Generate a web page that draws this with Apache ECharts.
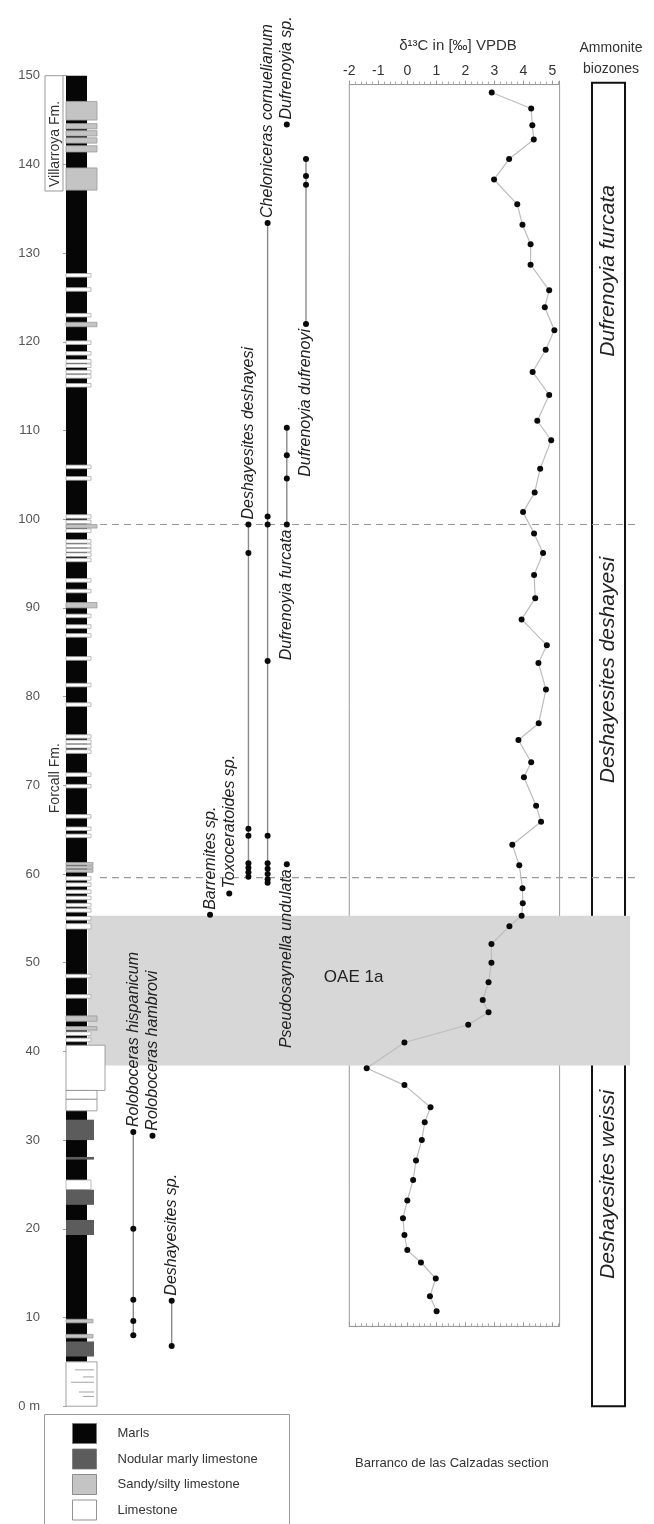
<!DOCTYPE html>
<html><head><meta charset="utf-8">
<script src="https://cdn.jsdelivr.net/npm/echarts@6/dist/echarts.min.js"></script>
<style>html,body{margin:0;padding:0;background:#fff}#c{width:654px;height:1524px}</style>
</head><body><div id="c"></div>
<script>
// ---------------- DATA ----------------
const depthTicks = [0,10,20,30,40,50,60,70,80,90,100,110,120,130,140,150];
const d13cDepth = [148.1,146.3,144.4,142.8,140.6,138.3,135.5,133.2,131.0,128.7,125.8,123.9,121.3,119.1,116.6,114.0,111.1,108.9,105.7,103.0,100.8,98.4,96.2,93.7,91.1,88.7,85.8,83.8,80.8,77.0,75.1,72.6,70.9,67.7,65.9,63.3,61.0,58.4,56.7,55.3,54.1,52.1,50.0,47.8,45.8,44.4,43.0,41.0,38.1,36.2,33.7,32.0,30.0,27.7,25.5,23.2,21.2,19.3,17.6,16.2,14.4,12.4,10.7];
const d13cValue = [2.91,4.27,4.31,4.36,3.51,2.99,3.79,3.97,4.25,4.25,4.89,4.74,5.07,4.77,4.32,4.89,4.48,4.96,4.58,4.39,3.99,4.37,4.68,4.37,4.41,3.94,4.81,4.52,4.78,4.53,3.83,4.27,4.02,4.44,4.61,3.62,3.86,3.97,3.98,3.94,3.52,2.90,2.9,2.8,2.6,2.8,2.1,-0.1,-1.4,-0.1,0.8,0.6,0.5,0.3,0.2,0.0,-0.15,-0.1,0.0,0.47,0.98,0.78,1.01];

const taxa = ['Roloboceras hispanicum','Roloboceras hambrovi','Deshayesites sp.','Barremites sp.','Toxoceratoides sp.','Deshayesites deshayesi','Cheloniceras cornuelianum','Pseudosaynella undulata','Dufrenoyia furcata','Dufrenoyia dufrenoyi','Dufrenoyia sp.'];
const taxonColumn = [0,1,2,4,5,6,7,8,8,9,8];
const taxonOccurrences = [
  [30.9,20.0,12.0,9.6,8.0],
  [30.5],
  [11.9,6.8],
  [55.4],
  [57.8],
  [99.4,96.2,65.1,64.3,61.2,60.7,60.2,59.7],
  [133.4,100.3,99.4,84.0,64.3,61.2,60.6,60.0,59.4,59.0],
  [61.1],
  [110.3,107.2,104.6,99.4],
  [140.6,138.7,137.7,122.0],
  [144.5]
];
const taxonLabelSide = ['above','above','above','above','above','above','above','below','below','below','above'];

const lithoNames = ['Marls','Nodular marly limestone','Sandy/silty limestone','Limestone'];
const bedBase = [5.0,145.0,144.0,143.2,142.4,141.4,137.1,127.3,125.7,122.8,121.7,119.7,118.5,117.6,117.1,116.4,115.9,114.9,105.7,104.4,100.1,99.5,99.0,98.5,97.3,96.8,96.3,95.8,95.2,92.9,91.7,90.0,88.9,87.7,86.7,84.1,81.1,78.9,75.3,74.7,74.2,73.6,71.0,69.7,66.3,64.9,64.1,61.0,60.6,60.2,59.3,58.6,57.8,57.1,56.3,55.7,54.8,53.8,48.3,46.0,43.4,42.4,41.8,41.1,35.6,34.6,33.3,30.0,27.8,24.4,22.7,19.3,9.4,7.7,5.6,0];
const bedTop  = [150,147.1,144.6,143.8,143.0,142.1,139.6,127.7,126.1,123.2,122.2,120.1,118.9,118.0,117.5,116.8,116.3,115.3,106.1,104.8,100.5,99.9,99.4,98.9,97.7,97.2,96.7,96.2,95.6,93.3,92.1,90.6,89.3,88.1,87.1,84.5,81.5,79.3,75.7,75.1,74.6,74.0,71.4,70.1,66.7,65.3,64.5,61.3,60.9,60.5,59.7,59.0,58.2,57.5,56.7,56.1,55.2,54.4,48.7,46.4,44.0,42.8,42.2,41.5,40.7,35.6,34.6,32.3,28.1,25.5,24.4,21.0,9.8,8.1,7.3,5.0];
const bedType = ['M','S','S','S','S','S','S','l','l','l','S','l','l','l','l','l','l','l','l','l','l','l','S','l','l','l','l','l','l','l','l','S','l','l','l','l','l','l','l','l','l','l','l','l','l','l','l','s','s','s','l','l','l','l','l','l','l','l','l','l','S','S','l','l','W','L','L','N','N','l','N','N','s','s','N','L'];
// laminations inside the basal limestone (depth, start offset in column units)
const laminaDepth = [4.1,3.3,2.7,1.6,1.1];
const laminaStart = [9,17,5,13,17];

const formationNames = ['Villarroya Fm.','Forcall Fm.'];
const formationBase = [137.0, 0];
const formationTop = [150, 137.0];
const formationLabelDepth = [142.3, 70.8];
const formationBoxed = [1, 0];

const oaeBase = 38.4, oaeTop = 55.3, oaeLabel = 'OAE 1a', oaeLabelDepth = 48.4;
const zoneBoundaries = [99.4, 59.6];
const zoneNames = ['Dufrenoyia furcata','Deshayesites deshayesi','Deshayesites weissi'];
const zoneLabelDepth = [128.0, 83.0, 25.0];
const d13cTicks = [-2,-1,0,1,2,3,4,5];

// ---------------- LAYOUT ----------------
const FONT = '"Liberation Sans", Arial, sans-serif';
const PPM = 8.87, Y150 = 75.7;
const vTop = mx => Y150 + (150 - mx) * PPM;
const vH = (mn, mx) => (mx - mn) * PPM;
function g(left, width, mn, mx, extra) {
  return Object.assign({left: left, width: width, top: vTop(mx), height: vH(mn, mx), containLabel: false}, extra || {});
}
const lithoStyle = {
  M: {fill: '#060606', w: 21, stroke: null},
  N: {fill: '#5c5c5c', w: 28, stroke: null},
  S: {fill: '#c4c4c4', w: 31, stroke: '#9a9a9a'},
  s: {fill: '#c4c4c4', w: 27, stroke: '#9a9a9a'},
  L: {fill: '#ffffff', w: 31, stroke: '#8a8a8a'},
  l: {fill: '#ffffff', w: 25, stroke: '#aaaaaa'},
  W: {fill: '#ffffff', w: 39, stroke: '#8a8a8a'}
};
const legendFill = ['#060606', '#5c5c5c', '#c4c4c4', '#ffffff'];

const chart = echarts.init(document.getElementById('c'), null, {renderer: 'canvas'});

const hiddenX = (gi, mn, mx) => ({gridIndex: gi, type: 'value', min: mn, max: mx, show: false});
const hiddenY = (gi, mn, mx) => ({gridIndex: gi, type: 'value', min: mn, max: mx, show: false});

const series = [];
// OAE band (grid 2)
series.push({
  type: 'custom', xAxisIndex: 2, yAxisIndex: 2, z: 0, silent: true,
  data: [[oaeBase, oaeTop, oaeLabelDepth]],
  renderItem: function (p, api) {
    const a = api.coord([0, api.value(1)]), b = api.coord([1, api.value(0)]);
    const t = api.coord([0.49, api.value(2)]);
    return {type: 'group', children: [
      {type: 'rect', shape: {x: a[0], y: a[1], width: b[0] - a[0], height: b[1] - a[1]}, style: {fill: '#d7d7d7'}},
      {type: 'text', x: t[0], y: t[1], style: {text: oaeLabel, font: '17px ' + FONT, fill: '#222', textAlign: 'center', textVerticalAlign: 'middle'}}
    ]};
  }
});
// zone boundaries dashed (grid 3)
series.push({
  type: 'custom', xAxisIndex: 3, yAxisIndex: 3, z: 1, silent: true,
  data: zoneBoundaries.map(d => [d]),
  renderItem: function (p, api) {
    const a = api.coord([0, api.value(0)]), b = api.coord([1, api.value(0)]);
    return {type: 'line', shape: {x1: a[0], y1: a[1], x2: b[0], y2: b[1]}, style: {stroke: '#9a9a9a', lineWidth: 1.2, lineDash: [7, 5]}};
  }
});
// lithology (grid 0)
series.push({
  type: 'custom', xAxisIndex: 0, yAxisIndex: 0, z: 3, silent: true,
  data: bedBase.map((b, i) => [b, bedTop[i], i]),
  renderItem: function (p, api) {
    const i = api.value(2);
    const st = lithoStyle[bedType[i]];
    const a = api.coord([0, api.value(1)]), b = api.coord([st.w, api.value(0)]);
    return {type: 'rect', shape: {x: a[0], y: a[1], width: b[0] - a[0], height: Math.max(1, b[1] - a[1])},
      style: {fill: st.fill, stroke: st.stroke, lineWidth: st.stroke ? 0.8 : 0}};
  }
});
// laminations
series.push({
  type: 'custom', xAxisIndex: 0, yAxisIndex: 0, z: 4, silent: true,
  data: laminaDepth.map((d, i) => [laminaStart[i], d]),
  renderItem: function (p, api) {
    const a = api.coord([api.value(0), api.value(1)]), b = api.coord([28, api.value(1)]);
    return {type: 'line', shape: {x1: a[0], y1: a[1], x2: b[0], y2: b[1]}, style: {stroke: '#999', lineWidth: 0.9}};
  }
});
// formations (grid 1)
series.push({
  type: 'custom', xAxisIndex: 1, yAxisIndex: 1, z: 3, silent: true,
  data: formationNames.map((n, i) => [formationBase[i], formationTop[i], formationLabelDepth[i], formationBoxed[i], i]),
  renderItem: function (p, api) {
    const i = api.value(4);
    const ch = [];
    if (api.value(3)) {
      const a = api.coord([0, api.value(1)]), b = api.coord([1, api.value(0)]);
      ch.push({type: 'rect', shape: {x: a[0], y: a[1], width: b[0] - a[0], height: b[1] - a[1]}, style: {fill: 'none', stroke: '#999', lineWidth: 1}});
    }
    const t = api.coord([0.55, api.value(2)]);
    ch.push({type: 'text', x: t[0], y: t[1], rotation: Math.PI / 2,
      style: {text: formationNames[i], font: '14px ' + FONT, fill: '#333', textAlign: 'center', textVerticalAlign: 'middle'}});
    return {type: 'group', children: ch};
  }
});
// ammonite ranges (grid 4)
taxa.forEach((name, i) => {
  const occ = taxonOccurrences[i].slice().sort((a, b) => b - a);
  series.push({
    type: 'line', name: name, xAxisIndex: 4, yAxisIndex: 4, z: 4,
    data: occ.map(d => [taxonColumn[i], d]),
    symbol: 'circle', symbolSize: 6, showSymbol: true,
    itemStyle: {color: '#0a0a0a'},
    lineStyle: {color: '#8a8a8a', width: 1.4},
    silent: true
  });
});
// ammonite labels
series.push({
  type: 'custom', xAxisIndex: 4, yAxisIndex: 4, z: 5, silent: true,
  data: taxa.map((n, i) => {
    const occ = taxonOccurrences[i];
    const d = taxonLabelSide[i] === 'above' ? Math.max.apply(null, occ) : Math.min.apply(null, occ);
    return [taxonColumn[i], d, i];
  }),
  renderItem: function (p, api) {
    const i = api.value(2);
    const c = api.coord([api.value(0), api.value(1)]);
    const above = taxonLabelSide[i] === 'above';
    return {type: 'text', x: c[0], y: above ? c[1] - 5 : c[1] + 5, rotation: Math.PI / 2,
      style: {text: taxa[i], font: 'italic 16px ' + FONT, fill: '#222', textAlign: above ? 'left' : 'right', textVerticalAlign: 'middle'}};
  }
});
// d13C curve (grid 5)
series.push({
  type: 'line', xAxisIndex: 5, yAxisIndex: 5, z: 6,
  data: d13cDepth.map((d, i) => [d13cValue[i], d]),
  symbol: 'circle', symbolSize: 6, showSymbol: true,
  itemStyle: {color: '#0a0a0a'},
  lineStyle: {color: '#bdbdbd', width: 1.2},
  silent: true
});
// biozone labels (grid 7)
series.push({
  type: 'custom', xAxisIndex: 7, yAxisIndex: 7, z: 6, silent: true,
  data: zoneNames.map((n, i) => [zoneLabelDepth[i], i]),
  renderItem: function (p, api) {
    const c = api.coord([0.5, api.value(0)]);
    return {type: 'text', x: c[0], y: c[1], rotation: Math.PI / 2,
      style: {text: zoneNames[api.value(1)], font: 'italic 21px ' + FONT, fill: '#222', textAlign: 'center', textVerticalAlign: 'middle'}};
  }
});

const option = {
  animation: false,
  backgroundColor: '#ffffff',
  textStyle: {fontFamily: FONT},
  grid: [
    g(66, 40, 0, 150),            // 0 lithology
    g(45, 18, 0, 150),            // 1 formations
    g(88, 542, 0, 150),           // 2 OAE band
    g(100, 535, 0, 150),          // 3 zone boundaries
    g(133.3, 172.7, 0, 150),      // 4 ammonites
    g(349.3, 210.3, 9, 149, {show: true, borderColor: '#9a9a9a', borderWidth: 1, backgroundColor: 'transparent'}), // 5 d13C
    g(349.3, 210.3, 9, 149),      // 6 d13C bottom axis holder
    g(592, 33, 0, 149.2, {show: true, borderColor: '#111', borderWidth: 2, backgroundColor: 'transparent'}) // 7 biozones
  ],
  xAxis: [
    hiddenX(0, 0, 40), hiddenX(1, 0, 1), hiddenX(2, 0, 1), hiddenX(3, 0, 1), hiddenX(4, 0, 9),
    {gridIndex: 5, type: 'value', position: 'top', min: -2, max: 5.25, interval: 1,
      axisLine: {show: true, lineStyle: {color: '#9a9a9a'}},
      axisTick: {show: true, inside: false, length: 4, lineStyle: {color: '#9a9a9a'}},
      minorTick: {show: true, splitNumber: 5, length: 3, lineStyle: {color: '#aaa'}},
      splitLine: {show: false},
      axisLabel: {show: true, showMaxLabel: false, margin: 6, fontSize: 14, color: '#333', fontFamily: FONT,
        formatter: v => d13cTicks.indexOf(v) >= 0 ? String(v) : ''}},
    {gridIndex: 6, type: 'value', position: 'bottom', min: -2, max: 5.25, interval: 1,
      axisLine: {show: true, lineStyle: {color: '#9a9a9a'}},
      axisTick: {show: true, inside: true, length: 4, lineStyle: {color: '#9a9a9a'}},
      minorTick: {show: true, splitNumber: 5, length: 3, lineStyle: {color: '#aaa'}},
      splitLine: {show: false}, axisLabel: {show: false}},
    hiddenX(7, 0, 1)
  ],
  yAxis: [
    {gridIndex: 0, type: 'value', min: 0, max: 150, interval: 10, position: 'left', offset: 21,
      axisLine: {show: true, lineStyle: {color: '#a0a0a0', width: 1}},
      axisTick: {show: true, length: 3, lineStyle: {color: '#a0a0a0'}},
      splitLine: {show: false},
      axisLabel: {show: true, margin: 5, fontSize: 13, color: '#555', fontFamily: FONT,
        formatter: v => depthTicks.indexOf(v) >= 0 ? (v === 0 ? '0 m' : String(v)) : ''}},
    hiddenY(1, 0, 150), hiddenY(2, 0, 150), hiddenY(3, 0, 150), hiddenY(4, 0, 150),
    hiddenY(5, 9, 149), hiddenY(6, 9, 149), hiddenY(7, 0, 149.2)
  ],
  title: [
    {text: 'δ¹³C in [‰] VPDB', left: 453, top: 33, textAlign: 'center',
      textStyle: {fontSize: 15, fontWeight: 'normal', color: '#333', fontFamily: FONT}},
    {text: 'Ammonite\nbiozones', left: 606, top: 33, textAlign: 'center',
      textStyle: {fontSize: 14, fontWeight: 'normal', color: '#333', fontFamily: FONT, lineHeight: 21}},
    {text: 'Barranco de las Calzadas section', left: 350, top: 1452,
      textStyle: {fontSize: 13, fontWeight: 'normal', color: '#333', fontFamily: FONT}}
  ],
  graphic: [{
    type: 'group', left: 44, top: 1414,
    children: [{type: 'rect', shape: {x: 0, y: 0, width: 245, height: 125}, style: {fill: '#fff', stroke: '#999', lineWidth: 1}}]
      .concat(lithoNames.map((n, i) => ({type: 'rect', shape: {x: 28, y: 9 + i * 25.5, width: 24, height: 20},
        style: {fill: legendFill[i], stroke: '#777', lineWidth: 0.8}})))
      .concat(lithoNames.map((n, i) => ({type: 'text', x: 73, y: 19 + i * 25.5,
        style: {text: n, font: '13px ' + FONT, fill: '#333', textVerticalAlign: 'middle'}})))
  }],
  series: series
};
chart.setOption(option);
</script></body></html>
